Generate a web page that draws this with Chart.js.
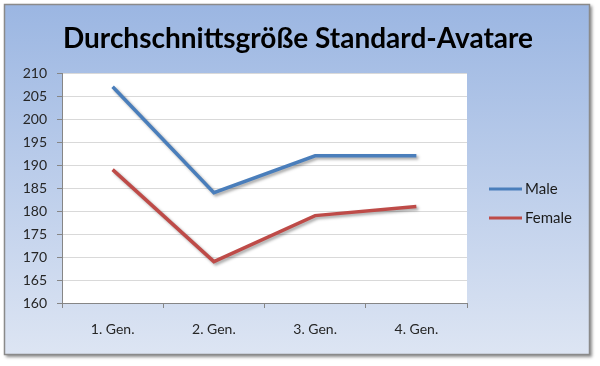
<!DOCTYPE html>
<html>
<head>
<meta charset="utf-8">
<script src="https://cdn.jsdelivr.net/npm/chart.js@4"></script>
<style>
  html, body { margin: 0; padding: 0; background: #fff; }
  #wrap { width: 600px; height: 366px; }
</style>
</head>
<body>
<div id="wrap"><canvas id="avatarChart" width="600" height="366"></canvas></div>
<script>
// ----------------------
// DATA
// ----------------------
const chartTitle = "Durchschnittsgröße Standard-Avatare";
const generations = ["1. Gen.", "2. Gen.", "3. Gen.", "4. Gen."];
const maleValues = [207, 184, 192, 192];
const femaleValues = [189, 169, 179, 181];
const yMin = 160;
const yMax = 210;
const yStep = 5;

const FONT = "Lato, 'Open Sans', sans-serif";
const maleColor = "#4a7ebb";
const femaleColor = "#be4b48";

// ----------------------
// BACKGROUND / FRAME / TITLE / LEGEND
// ----------------------
const excelLook = {
  id: "excelLook",
  beforeDraw(chart) {
    const ctx = chart.ctx;
    const { left, top, right, bottom } = chart.chartArea;

    // outer frame with shadow
    ctx.save();
    ctx.shadowColor = "rgba(0,0,0,0.45)";
    ctx.shadowBlur = 3;
    ctx.shadowOffsetX = 2;
    ctx.shadowOffsetY = 2;
    const grad = ctx.createLinearGradient(0, 4, 0, 355);
    grad.addColorStop(0, "#9bb6e2");
    grad.addColorStop(1, "#dde5f3");
    ctx.fillStyle = grad;
    ctx.fillRect(4, 4, 586, 351);
    ctx.restore();

    ctx.save();
    ctx.strokeStyle = "#8a8a8a";
    ctx.lineWidth = 1.5;
    ctx.strokeRect(4.5, 4.5, 585, 350);
    ctx.restore();

    // plot area
    ctx.save();
    ctx.fillStyle = "#ffffff";
    ctx.fillRect(left, top, right - left, bottom - top);
    ctx.restore();
  },
  afterDraw(chart) {
    const ctx = chart.ctx;
    ctx.save();
    ctx.fillStyle = "#000";
    ctx.font = "bold 28px " + FONT;
    ctx.textAlign = "center";
    ctx.textBaseline = "middle";
    ctx.fillText(chartTitle, 298, 39);

    // legend
    ctx.font = "15px " + FONT;
    ctx.textAlign = "left";
    chart.data.datasets.forEach((ds, i) => {
      const y = 189 + i * 29;
      ctx.strokeStyle = ds.borderColor;
      ctx.lineWidth = 3;
      ctx.beginPath();
      ctx.moveTo(489, y);
      ctx.lineTo(522, y);
      ctx.stroke();
      ctx.fillStyle = "#1a1a1a";
      ctx.fillText(ds.label, 525, y);
    });
    ctx.restore();
  }
};

const lineShadow = {
  id: "lineShadow",
  beforeDatasetDraw(chart) {
    const ctx = chart.ctx;
    ctx.save();
    ctx.shadowColor = "rgba(0,0,0,0.35)";
    ctx.shadowBlur = 3;
    ctx.shadowOffsetX = 2;
    ctx.shadowOffsetY = 2;
  },
  afterDatasetDraw(chart) {
    chart.ctx.restore();
  }
};

// ----------------------
// CHART
// ----------------------
const ctx = document.getElementById("avatarChart").getContext("2d");

const avatarChart = new Chart(ctx, {
  type: "line",
  data: {
    labels: generations,
    datasets: [
      {
        label: "Male",
        data: maleValues,
        borderColor: maleColor,
        backgroundColor: maleColor,
        borderWidth: 3.5,
        pointRadius: 0,
        tension: 0,
        fill: false
      },
      {
        label: "Female",
        data: femaleValues,
        borderColor: femaleColor,
        backgroundColor: femaleColor,
        borderWidth: 3.5,
        pointRadius: 0,
        tension: 0,
        fill: false
      }
    ]
  },
  options: {
    responsive: false,
    animation: false,
    devicePixelRatio: 1,
    layout: {
      padding: { left: 0, top: 73, right: 133, bottom: 0 }
    },
    plugins: {
      legend: { display: false },
      title: { display: false },
      tooltip: { enabled: false }
    },
    scales: {
      x: {
        offset: true,
        afterFit(scale) { scale.height = 63; },
        grid: {
          offset: true,
          drawOnChartArea: false,
          drawTicks: true,
          tickLength: 5,
          color: "#868686"
        },
        border: { color: "#868686", width: 1 },
        ticks: {
          color: "#262626",
          font: { family: FONT, size: 14 },
          padding: 13,
          maxRotation: 0
        }
      },
      y: {
        min: yMin,
        max: yMax,
        afterFit(scale) { scale.width = 62; },
        grid: {
          color: "#d9d9d9",
          tickColor: "#868686",
          tickLength: 5,
          drawTicks: true
        },
        border: { color: "#868686", width: 1 },
        ticks: {
          stepSize: yStep,
          color: "#262626",
          font: { family: FONT, size: 14 },
          padding: 10
        }
      }
    }
  },
  plugins: [excelLook, lineShadow]
});
</script>
</body>
</html>
